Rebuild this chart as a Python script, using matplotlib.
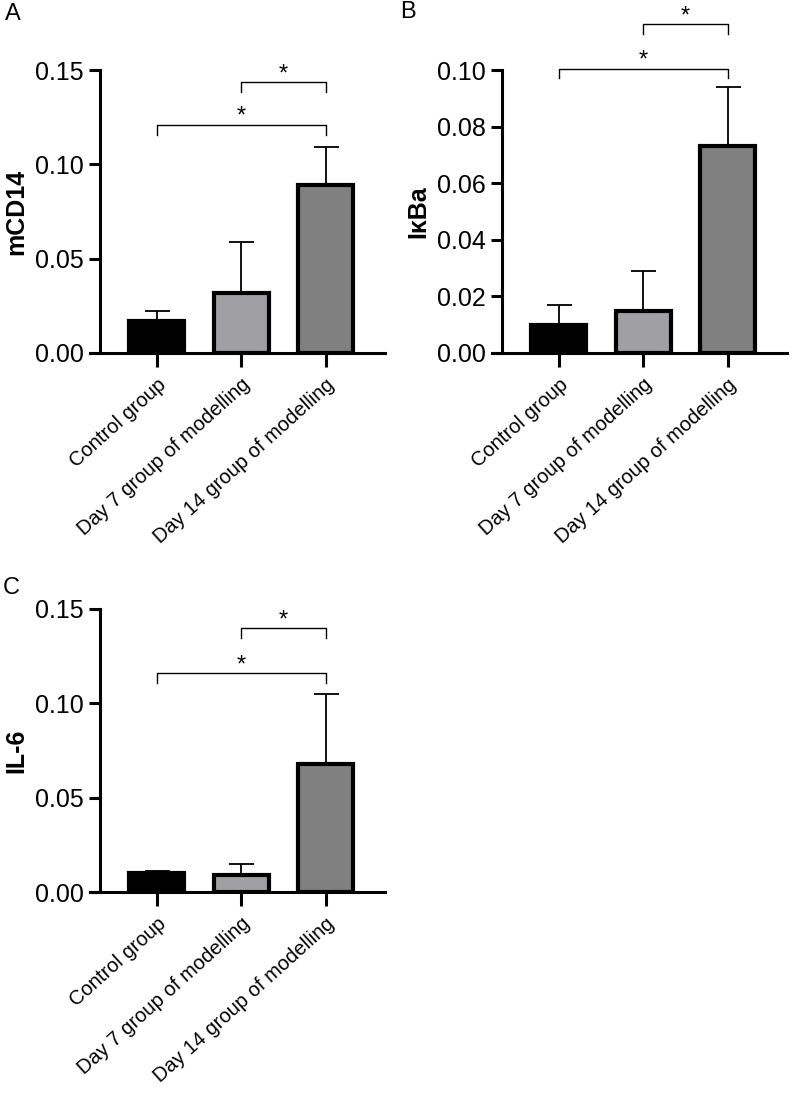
import numpy as np
import matplotlib
matplotlib.use('Agg')
import matplotlib.pyplot as plt

plt.rcParams['font.family'] = ['Liberation Sans', 'DejaVu Sans']

groups = ['Control group', 'Day 7 group of modelling', 'Day 14 group of modelling']
colors = ['#000000', '#a0a0a4', '#808080']

mcd14_mean = [0.017, 0.032, 0.089]
mcd14_err = [0.005, 0.027, 0.020]
ikba_mean = [0.010, 0.015, 0.073]
ikba_err = [0.007, 0.014, 0.021]
il6_mean = [0.010, 0.009, 0.068]
il6_err = [0.001, 0.006, 0.037]

# brackets: (from, to, height)
mcd14_sig = [(0, 2, 0.121), (1, 2, 0.1435)]
ikba_sig = [(0, 2, 0.1005), (1, 2, 0.1163)]
il6_sig = [(0, 2, 0.116), (1, 2, 0.140)]


def panel(ax, means, errs, sig, ylabel, ymax, yticks, fmt):
    x = np.arange(len(groups))
    ax.bar(x, means, width=0.65, color=colors, edgecolor='black', linewidth=3, zorder=2)
    ax.errorbar(x, means, yerr=[np.zeros(len(errs)), errs], fmt='none', ecolor='black',
                elinewidth=1.3, capsize=9, capthick=1.3, zorder=1)
    ax.set_xlim(-0.79, 2.70)
    ax.set_ylim(0, ymax)
    ax.spines['left'].set_position(('data', -0.675))
    ax.spines['top'].set_visible(False)
    ax.spines['right'].set_visible(False)
    ax.spines['left'].set_linewidth(2.2)
    ax.spines['bottom'].set_linewidth(2.2)
    ax.set_yticks(yticks)
    ax.set_yticklabels([fmt % v for v in yticks], fontsize=18)
    ax.set_xticks(x)
    ax.set_xticklabels(groups, rotation=42, ha='right', rotation_mode='anchor', fontsize=14.5)
    ax.tick_params(axis='both', width=2.2, length=8)
    ax.tick_params(axis='x', length=10, pad=6)
    ax.set_ylabel(ylabel, fontsize=18, fontweight='bold', labelpad=5)
    dh = ymax * 0.035
    for a, b, h in sig:
        ax.plot([a, a, b, b], [h - dh, h, h, h - dh], color='black', lw=1, clip_on=False)
        ax.text((a + b) / 2, h + ymax * 0.006, '*', ha='center', va='baseline', fontsize=17)


fig = plt.figure(figsize=(7.92, 11.03), dpi=100)

axA = fig.add_axes([90 / 792, 1 - 353 / 1103, 295 / 792, 283 / 1103])
panel(axA, mcd14_mean, mcd14_err, mcd14_sig, 'mCD14', 0.15, [0, 0.05, 0.10, 0.15], '%.2f')

axB = fig.add_axes([492 / 792, 1 - 353 / 1103, 295 / 792, 283 / 1103])
panel(axB, ikba_mean, ikba_err, ikba_sig, 'IκBa', 0.10, [0, 0.02, 0.04, 0.06, 0.08, 0.10], '%.2f')

axC = fig.add_axes([90 / 792, 1 - 892 / 1103, 295 / 792, 283 / 1103])
panel(axC, il6_mean, il6_err, il6_sig, 'IL-6', 0.15, [0, 0.05, 0.10, 0.15], '%.2f')

fig.text(5 / 792, 1 - 14 / 1103, 'A', fontsize=17, va='center', ha='left')
fig.text(400 / 792, 1 - 12 / 1103, 'B', fontsize=17, va='center', ha='left')
fig.text(3 / 792, 1 - 588 / 1103, 'C', fontsize=17, va='center', ha='left')

fig.savefig('out.png', dpi=100)
